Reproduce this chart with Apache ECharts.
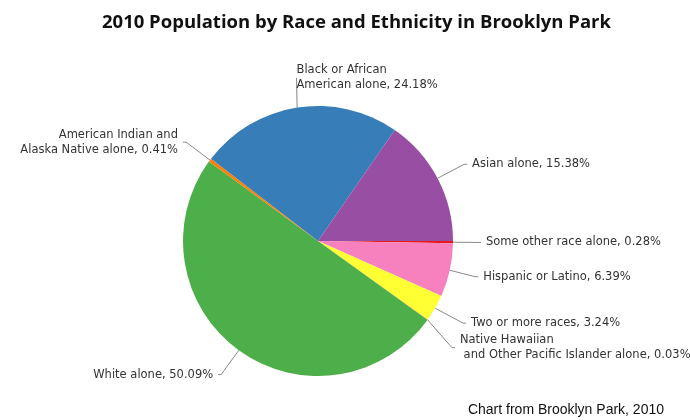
<!DOCTYPE html>
<html>
<head>
<meta charset="utf-8">
<script src="https://cdn.jsdelivr.net/npm/echarts@6/dist/echarts.min.js"></script>
<style>
  html, body { margin: 0; padding: 0; background: #fff; }
  #main { width: 690px; height: 420px; }
</style>
</head>
<body>
<div id="main"></div>
<script>
// slices in drawing order, clockwise from 3 o'clock
var names = [
  'Some other race alone',
  'Hispanic or Latino',
  'Two or more races',
  'Native Hawaiian\n and Other Pacific Islander alone',
  'White alone',
  'American Indian and\nAlaska Native alone',
  'Black or African\nAmerican alone',
  'Asian alone'
];
var shares = [0.28, 6.39, 3.24, 0.03, 50.09, 0.41, 24.18, 15.38];
var colors = ['#e41a1c', '#f781bf', '#ffff33', '#a65628', '#4daf4a', '#ff7f00', '#377eb8', '#984ea3'];

var myChart = echarts.init(document.getElementById('main'));

var pieData = names.map(function (n, i) {
  return { name: n, value: shares[i], itemStyle: { color: colors[i] } };
});

myChart.setOption({
  animation: false,
  title: {
    text: '2010 Population by Race and Ethnicity in Brooklyn Park',
    left: 97,
    top: 8,
    textStyle: { fontFamily: 'Open Sans', fontWeight: 'bold', fontSize: 18.5, color: '#111' }
  },
  graphic: [{
    type: 'text',
    right: 26,
    bottom: 3,
    style: { text: 'Chart from Brooklyn Park, 2010', font: '14px "Liberation Sans"', fill: '#111' }
  }],
  series: [{
    type: 'pie',
    center: [318, 241],
    radius: 135,
    startAngle: 0,
    clockwise: true,
    data: pieData,
    label: {
      formatter: function (p) { return p.name + ', ' + p.value.toFixed(2) + '%'; },
      fontFamily: 'DejaVu Sans',
      fontSize: 11.5,
      lineHeight: 15,
      color: '#333',
      overflow: 'none'
    },
    labelLine: {
      length: 30,
      length2: 3,
      lineStyle: { color: '#888', width: 1 }
    },
    // the top label sits to the right of its leader line, as in the source
    labelLayout: function (params) {
      if (params.dataIndex === 6 && params.labelLinePoints) {
        var mid = params.labelLinePoints[1];
        return { x: mid[0] + 4, align: 'left' };
      }
      return {};
    }
  }]
});
</script>
</body>
</html>
